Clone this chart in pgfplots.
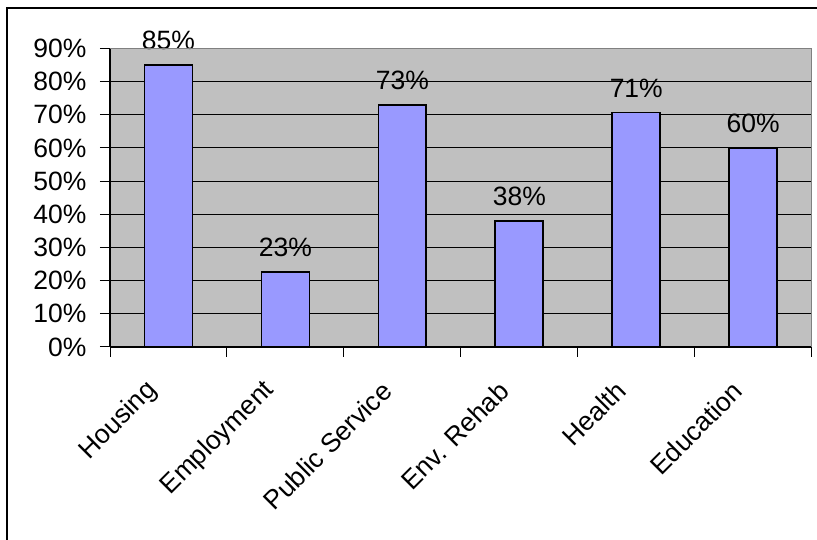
\documentclass[border=0pt]{standalone}
\usepackage{fontspec}
\setmainfont{Liberation Sans}
\usepackage{pgfplots}
\pgfplotsset{compat=1.18}
\definecolor{plotgray}{HTML}{C0C0C0}
\definecolor{bordergray}{HTML}{808080}
\definecolor{barblue}{HTML}{9999FF}
\begin{document}
\begin{tikzpicture}[font=\fontsize{26.5}{31}\selectfont]
\useasboundingbox (0,0) rectangle (817pt,540pt);
\draw[line width=2pt] (7pt,0) -- (7pt,532pt) -- (817pt,532pt);
\begin{axis}[
  at={(110pt,193pt)}, anchor=south west,
  scale only axis, width=701.7pt, height=298.5pt,
  xmin=-0.5, xmax=5.5, ymin=0, ymax=90,
  clip=false,
  axis background/.style={fill=plotgray},
  axis x line*=bottom, axis y line*=left,
  x axis line style={-, line width=1.5pt, black},
  y axis line style={-, line width=1.5pt, black},
  tick align=outside,
  major tick length=10pt,
  tick style={black, line width=1pt},
  ytick={0,10,...,90},
  yticklabel={\pgfmathprintnumber{\tick}\%},
  y tick label style={xshift=-10pt},
  xtick={-0.5,0.5,1.5,2.5,3.5,4.5,5.5},
  x tick label as interval,
  xticklabels={Housing,Employment,Public Service,Env. Rehab,Health,Education},
  x tick label style={xshift=-13pt, yshift=-27pt, rotate=45, anchor=east},
  ymajorgrids=true,
  major grid style={black, line width=1pt},
  /pgf/number format/assume math mode=true,
  after end axis/.code={
    \draw[bordergray, line width=1.5pt] (rel axis cs:0,1) -- (rel axis cs:1,1) -- (rel axis cs:1,0);
  },
  ybar,
  bar width=0.41,
]
\addplot[fill=barblue, draw=black, line width=1.8pt,
  point meta=y,
  nodes near coords={\pgfmathprintnumber[fixed,precision=0]{\pgfplotspointmeta}\%},
  every node near coord/.append style={anchor=south, yshift=11pt, black, font=\fontsize{26.5}{31}\selectfont},
] coordinates {(0,85) (1,22.6) (2,73) (3,38) (4,70.7) (5,60)};
\end{axis}
\end{tikzpicture}
\end{document}
